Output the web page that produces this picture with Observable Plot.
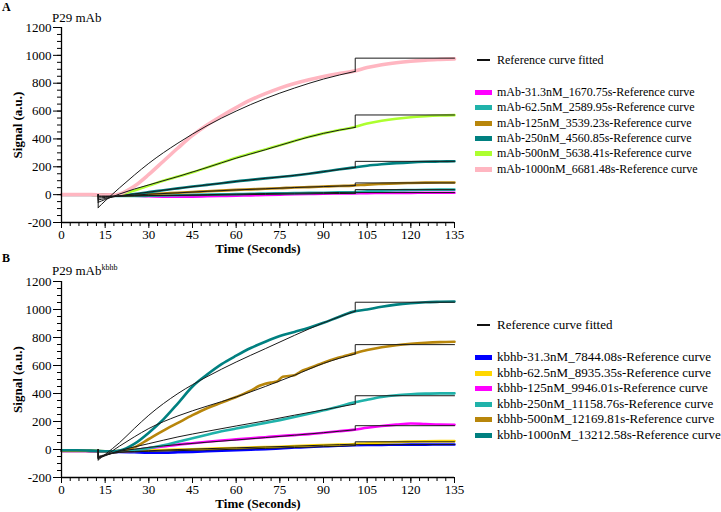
<!DOCTYPE html>
<html><head><meta charset="utf-8">
<script src="https://cdn.jsdelivr.net/npm/d3@7"></script>
<script src="https://cdn.jsdelivr.net/npm/@observablehq/plot@0.6"></script>
<style>
body{margin:0;background:#fff;}
#wrap{position:relative;width:721px;height:512px;font-family:'Liberation Serif','DejaVu Serif',Times,serif;color:#000;overflow:hidden;}
.panel{position:absolute;left:0;}
.lab{position:absolute;left:2px;font-weight:bold;font-size:12px;line-height:12px;}
.ttl{position:absolute;left:52px;font-size:13px;line-height:13px;white-space:nowrap;}
.ttl sup{font-size:8px;vertical-align:5px;line-height:0;}
.leg{position:absolute;left:475px;width:246px;}
.row{position:absolute;left:0;white-space:nowrap;height:14px;line-height:14px;}
.sw{position:absolute;left:0;width:17px;}
.txt{position:absolute;left:22px;top:0;}
</style></head><body><div id="wrap"></div>
<script>
// ---------- data ----------
const dataTimes = [0,5,10,15,18,20,25,30,35,40,45,50,55,60,65,70,75,80,85,90,95,100,105,110,115,120,125,130,135];
const fitTimes = [12.6,15,20,25,30,40,50,60,70,80,90,100.9];

// Panel A (P29 mAb)
const namesA = ["mAb-31.3nM_1670.75s-Reference curve","mAb-62.5nM_2589.95s-Reference curve","mAb-125nM_3539.23s-Reference curve","mAb-250nM_4560.85s-Reference curve","mAb-500nM_5638.41s-Reference curve","mAb-1000nM_6681.48s-Reference curve"];
const colorsA = ["#ff00ff","#20b2aa","#b8860b","#008080","#adff2f","#ffb6c1"];
const a31   = [2,2,1,0,-3,-5,-8,-12,-14,-15,-14,-12,-10,-8,-5,-3,0,3,5,7,8,9,11,12,13,13,14,14,14];
const a62   = [-2,-2,-3,-5,-8,-10,-10,-8,-6,-4,-2,0,2,4,6,8,10,11,13,14,16,17,24,28,31,33,35,36,36];
const a125  = [0,0,0,-3,-5,-8,-3,3,8,14,19,24,29,34,38,42,46,51,54,58,62,65,72,77,81,84,86,87,87];
const a250  = [0,0,0,-3,-5,-5,5,18,32,45,58,70,82,95,106,117,127,137,150,165,180,194,208,218,226,232,236,238,240];
const a500  = [0,0,0,-3,-3,0,30,65,100,130,160,195,230,265,295,325,355,385,415,440,462,482,510,530,545,556,563,568,571];
const a1000 = [0,0,0,-3,-3,5,60,145,240,335,425,500,565,625,680,725,765,798,825,848,868,885,912,932,947,958,966,971,975];
const fitA31   = [-10,-10,-10,-9,-8,-6,-4,-1,2,5,7,9];
const fitA62   = [-15,-14,-10,-8,-7,-4,0,4,8,11,14,17];
const fitA125  = [-25,-20,-10,-3,3,13,24,34,42,51,58,65];
const fitA250  = [-38,-28,-8,5,18,45,70,95,117,138,165,196];
const fitA500  = [-55,-35,5,40,70,130,195,262,322,385,440,483];
const fitA1000 = [-93,-45,50,140,225,370,495,600,690,765,830,885];
const plateauA = [15,36,84,239,572,980];

// Panel B (P29 mAb kbhb)
const namesB = ["kbhb-31.3nM_7844.08s-Reference curve","kbhb-62.5nM_8935.35s-Reference curve","kbhb-125nM_9946.01s-Reference curve","kbhb-250nM_11158.76s-Reference curve","kbhb-500nM_12169.81s-Reference curve","kbhb-1000nM_13212.58s-Reference curve"];
const colorsB = ["#0000ff","#ffd700","#ff00ff","#20b2aa","#b8860b","#008080"];
const b31   = [-10,-10,-12,-14,-16,-18,-20,-22,-22,-20,-17,-13,-9,-5,-1,3,7,14,19,23,27,30,32,33,34,35,35,36,36];
const b62   = [-10,-10,-10,-12,-12,-12,-10,-7,-4,-1,2,5,8,11,14,17,20,24,28,32,35,38,45,50,54,57,59,60,60];
const b125  = [-10,-10,-12,-14,-15,-15,-5,10,22,35,45,55,64,72,80,88,96,103,110,120,130,140,155,168,178,186,182,178,177];
const b250  = [-8,-8,-10,-12,-12,-12,-5,10,30,55,80,105,130,150,170,190,210,232,255,280,305,333,355,375,388,395,399,401,401];
const b500Times = [0,5,10,15,18,20,25,30,35,40,45,50,55,60,65,68,70,72,74,76,78,80,82,85,90,95,100,105,110,115,120,125,130,135];
const b500  = [-8,-8,-10,-12,-12,-10,15,75,135,190,245,295,335,375,420,455,470,478,485,520,525,530,555,580,620,655,683,710,730,745,755,762,767,770];
const b1000 = [-5,-5,-8,-12,-12,-8,40,120,215,330,450,535,610,670,725,770,810,840,870,905,945,983,1000,1020,1035,1045,1052,1055,1057];
const fitB31   = [-50,-37,-20,-16,-13,-8,-4,2,8,14,20,28];
const fitB62   = [-55,-40,-20,-14,-9,0,6,12,18,24,31,38];
const fitB125  = [-60,-40,-12,2,15,35,52,68,85,102,120,141];
const fitB250  = [-65,-45,-8,18,42,90,130,168,205,245,283,325];
const fitB500  = [-60,-40,25,90,150,240,310,375,450,530,615,683];
const fitB1000 = [-75,-35,50,150,245,400,520,625,720,815,905,988];
const plateauB = [35,55,170,384,749,1052];

const yMajor = [-200,0,200,400,600,800,1000,1200];
const yMinor = d3.range(-200,1201,50);
const xMajor = [0,15,30,45,60,75,90,105,120,135];
const xMinor = d3.range(0,136,3);

// ---------- drawing ----------
const FONT = "'Liberation Serif','DejaVu Serif',Times,serif";
function makePanel(names, colors, times, values, fits, plateaus, marginTop, marginBottom) {
  const rows = [];
  names.forEach((n, k) => times[k].forEach((t, i) => rows.push({t, v: values[k][i], s: n})));
  const fitRows = [], stepRows = [];
  const last = fitTimes.length - 1;
  fits.forEach((f, k) => {
    fitTimes.forEach((t, i) => fitRows.push({t, v: f[i], s: "f" + k}));
    stepRows.push({t: fitTimes[0], v: 0, s: "d" + k}, {t: fitTimes[0], v: f[0], s: "d" + k});
    stepRows.push({t: fitTimes[last], v: f[last], s: "j" + k},
                  {t: fitTimes[last], v: plateaus[k], s: "j" + k},
                  {t: 135, v: plateaus[k], s: "j" + k});
  });
  const thick = names[names.length - 1].startsWith("mAb-1000") ? names[names.length - 1] : null;
  return Plot.plot({
    width: 721, height: 256, marginLeft: 61, marginRight: 267, marginTop, marginBottom,
    x: {domain: [0, 135]},
    y: {domain: [-200, 1200]},
    color: {domain: names, range: colors},
    style: {fontFamily: FONT, fontSize: "13px", color: "#000", background: "transparent", overflow: "visible"},
    marks: [
      Plot.line(rows, {x: "t", y: "v", z: "s", stroke: "s", strokeWidth: 2.6, curve: "monotone-x",
                       filter: d => d.s !== thick}),
      Plot.line(rows, {x: "t", y: "v", z: "s", stroke: "s", strokeWidth: 3.6, curve: "monotone-x",
                       filter: d => d.s === thick}),
      Plot.line(fitRows, {x: "t", y: "v", z: "s", stroke: "#1a1a1a", strokeWidth: 1, curve: "monotone-x"}),
      Plot.line(stepRows, {x: "t", y: "v", z: "s", stroke: "#1a1a1a", strokeWidth: 1}),
      Plot.ruleX([0], {stroke: "#000", strokeWidth: 1.3}),
      Plot.ruleY([-200], {stroke: "#000", strokeWidth: 1.3}),
      Plot.axisY(yMinor, {tickSize: 4, tickFormat: () => "", label: null, stroke: "#000"}),
      Plot.axisY(yMajor, {tickSize: 8, tickPadding: 2, tickFormat: d => String(d), label: null, stroke: "#000", fontSize: 13}),
      Plot.axisX(xMinor, {tickSize: 4, tickFormat: () => "", label: null, stroke: "#000"}),
      Plot.axisX(xMajor, {tickSize: 6, tickPadding: 1, tickFormat: d => String(d), label: null, stroke: "#000", fontSize: 13}),
      Plot.text(["Signal (a.u.)"], {text: d => d, frameAnchor: "left", dx: -44, rotate: -90, textAnchor: "middle", lineAnchor: "middle", fontWeight: "bold", fontSize: 13}),
      Plot.text(["Time (Seconds)"], {text: d => d, frameAnchor: "bottom", dy: 26, textAnchor: "middle", lineAnchor: "middle", fontWeight: "bold", fontSize: 13})
    ]
  });
}

const wrap = document.getElementById("wrap");
function addPanel(svg, top) {
  svg.classList.add("panel");
  svg.style.top = top + "px";
  svg.style.fontFamily = FONT;
  wrap.appendChild(svg);
}
const timesA = namesA.map(() => dataTimes);
addPanel(makePanel(namesA, colorsA, timesA, [a31,a62,a125,a250,a500,a1000],
  [fitA31,fitA62,fitA125,fitA250,fitA500,fitA1000], plateauA, 27, 34), 0);
const timesB = [dataTimes, dataTimes, dataTimes, dataTimes, b500Times, dataTimes];
addPanel(makePanel(namesB, colorsB, timesB, [b31,b62,b125,b250,b500,b1000],
  [fitB31,fitB62,fitB125,fitB250,fitB500,fitB1000], plateauB, 25, 35), 256);

function el(tag, cls, html, style) {
  const e = document.createElement(tag);
  if (cls) e.className = cls;
  if (html != null) e.innerHTML = html;
  Object.assign(e.style, style || {});
  return e;
}
wrap.appendChild(el("div", "lab", "A", {top: "1px"}));
wrap.appendChild(el("div", "ttl", "P29 mAb", {top: "11px"}));
wrap.appendChild(el("div", "lab", "B", {top: "252px"}));
wrap.appendChild(el("div", "ttl", "P29 mAb<sup>kbhb</sup>", {top: "264px"}));

function legend(refY, firstY, step, names, colors, fs) {
  const leg = el("div", "leg", null, {top: "0px", fontSize: fs + "px"});
  const r = el("div", "row", null, {top: (refY - 7) + "px"});
  r.appendChild(el("div", "sw", null, {left: "2px", width: "13px", height: "2px", top: "6px", background: "#111"}));
  r.appendChild(el("div", "txt", "Reference curve fitted"));
  leg.appendChild(r);
  names.forEach((n, i) => {
    const row = el("div", "row", null, {top: (firstY + i * step - 7) + "px"});
    row.appendChild(el("div", "sw", null, {height: "5px", top: "5px", background: colors[i]}));
    row.appendChild(el("div", "txt", n));
    leg.appendChild(row);
  });
  wrap.appendChild(leg);
}
legend(60, 92, 15.3, namesA, colorsA, 12);
legend(325, 357, 15.5, namesB, colorsB, 13);
</script></body></html>
